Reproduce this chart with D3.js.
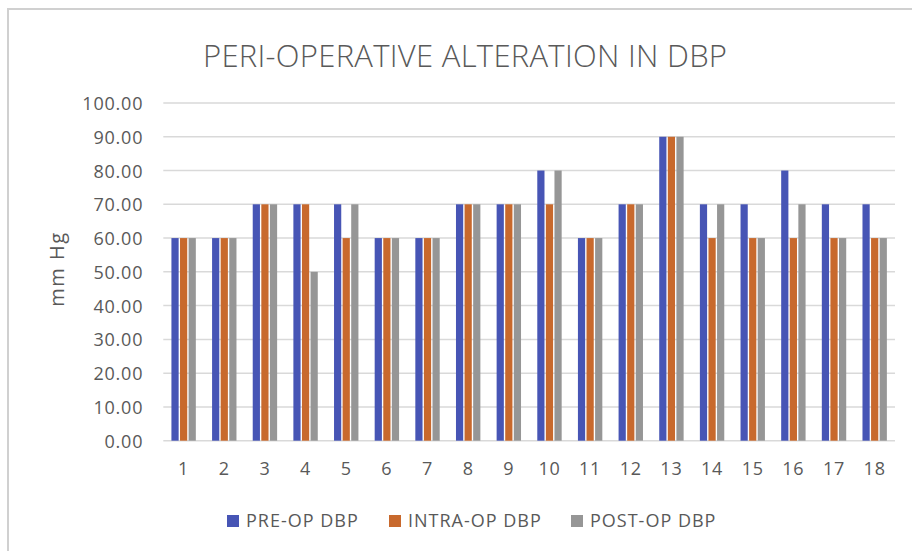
<!DOCTYPE html>
<html>
<head>
<meta charset="utf-8">
<title>Peri-operative alteration in DBP</title>
<style type="text/css">
	body { margin: 0; background: #fff; }
	svg text { font-family: "Open Sans", "Noto Sans", sans-serif; fill: #595959; }
	.grid line { stroke: #d9d9d9; stroke-width: 1.5; }
</style>
<script src="https://cdn.jsdelivr.net/npm/d3@7/dist/d3.min.js"></script>
</head>
<body>
<div id="chart"></div>
<script type="text/javascript">
// patient numbers 1..18
var patients = ["1","2","3","4","5","6","7","8","9","10","11","12","13","14","15","16","17","18"];
var seriesNames = ["PRE-OP DBP", "INTRA-OP DBP", "POST-OP DBP"];
var preOp   = [60,60,70,70,70,60,60,70,70,80,60,70,90,70,70,80,70,70];
var intraOp = [60,60,70,70,60,60,60,70,70,70,60,70,90,60,60,60,60,60];
var postOp  = [60,60,70,50,70,60,60,70,70,80,60,70,90,70,60,70,60,60];
var yTicks  = [0,10,20,30,40,50,60,70,80,90,100];
var colors  = ["#4755b5", "#c8692d", "#969696"];

var width = 912, height = 551;
var plotL = 163.3, plotR = 895, plotT = 103, plotB = 440.7;

var svg = d3.select('#chart').append('svg')
		.attr('width', width)
		.attr('height', height);

// chart frame (runs off the right and bottom edge in the picture)
svg.append('rect')
		.attr('x', 8).attr('y', 9)
		.attr('width', 920).attr('height', 560)
		.attr('fill', 'none')
		.attr('stroke', '#d0d0d0')
		.attr('stroke-width', 2);

var x = d3.scaleBand().domain(patients).range([plotL, plotR]).paddingInner(0.4).paddingOuter(0.2);
var xs = d3.scaleBand().domain(seriesNames).range([0, x.bandwidth()]).paddingInner(0.16);
var y = d3.scaleLinear().domain([0, 100]).range([plotB, plotT]);

svg.append('g').attr('class', 'grid')
	.selectAll('line').data(yTicks)
	.enter().append('line')
		.attr('x1', plotL).attr('x2', plotR)
		.attr('y1', function(d){ return y(d); })
		.attr('y2', function(d){ return y(d); });

var yAxis = svg.append('g')
		.attr('transform', 'translate(' + (plotL - 20) + ',0)')
		.call(d3.axisLeft(y).tickValues(yTicks).tickSize(0).tickFormat(d3.format('.2f')));
yAxis.select('.domain').remove();
yAxis.selectAll('text').attr('font-size', 18).attr('letter-spacing', 0.8).attr('dy', '0.36em').attr('x', 0);

var xAxis = svg.append('g')
		.attr('transform', 'translate(0,' + plotB + ')')
		.call(d3.axisBottom(x).tickSize(0));
xAxis.select('.domain').remove();
xAxis.selectAll('text').attr('font-size', 18).attr('letter-spacing', 0.8).attr('dy', '0.71em').attr('y', 22);

var rows = patients.map(function(p, i){
	return { p: p, vals: [preOp[i], intraOp[i], postOp[i]] };
});

var groups = svg.selectAll('.grp').data(rows)
	.enter().append('g')
		.attr('class', 'grp')
		.attr('transform', function(d){ return 'translate(' + x(d.p) + ',0)'; });

groups.selectAll('rect')
		.data(function(d){ return d.vals.map(function(v, k){ return { s: seriesNames[k], v: v, k: k }; }); })
	.enter().append('rect')
		.attr('x', function(d){ return xs(d.s); })
		.attr('width', xs.bandwidth())
		.attr('y', function(d){ return y(d.v); })
		.attr('height', function(d){ return plotB - y(d.v); })
		.attr('fill', function(d){ return colors[d.k]; });

// title
svg.append('text')
		.attr('x', 465).attr('y', 67)
		.attr('text-anchor', 'middle')
		.attr('font-size', 31)
		.attr('textLength', 524)
		.style('font-weight', 300)
		.text('PERI-OPERATIVE ALTERATION IN DBP');

// y axis title
svg.append('text')
		.attr('transform', 'translate(64,269) rotate(-90)')
		.attr('text-anchor', 'middle')
		.attr('font-size', 20)
		.attr('letter-spacing', 1.5)
		.text('mm Hg');

// legend
var legendX = [227, 389, 571];
var legend = svg.selectAll('.leg').data(seriesNames)
	.enter().append('g')
		.attr('class', 'leg')
		.attr('transform', function(d, i){ return 'translate(' + legendX[i] + ',521)'; });
legend.append('rect')
		.attr('x', 0).attr('y', -6)
		.attr('width', 12).attr('height', 12)
		.attr('fill', function(d, i){ return colors[i]; });
legend.append('text')
		.attr('x', 19).attr('dy', '0.36em')
		.attr('font-size', 18)
		.attr('letter-spacing', 1)
		.text(function(d){ return d; });
</script>
</body>
</html>
